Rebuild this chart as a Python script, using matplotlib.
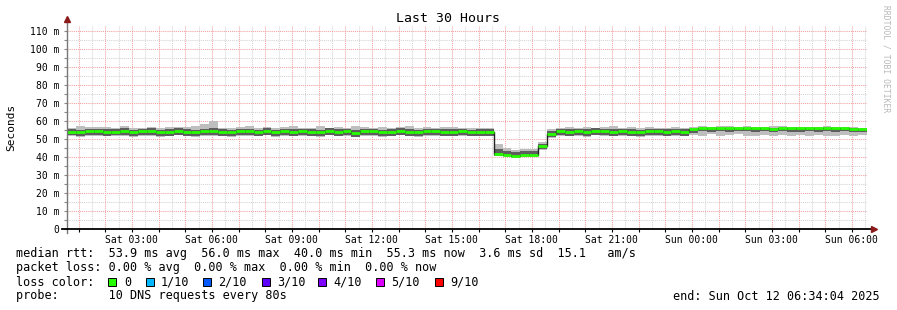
import numpy as np
import matplotlib
matplotlib.use('Agg')
import matplotlib.pyplot as plt
from matplotlib.patches import Rectangle

# time axis in hours since Sat 00:00, one value per 20 minute bin
start_hour = 0.5678   # Sat 00:34:04
bin_minutes = 20

# median rtt (ms) per bin
median = [54.0, 53.6, 54.2, 54.4, 53.8, 54.0, 54.3, 53.7, 54.1, 54.4, 53.6, 54.0,
          54.5, 53.9, 53.6, 54.2, 54.4, 54.0, 53.7, 54.3, 54.1, 53.8, 54.4, 53.5,
          54.2, 53.9, 54.3, 54.0, 53.6, 54.4, 53.9, 54.1, 53.4, 54.2, 54.3, 53.7,
          54.0, 54.4, 53.8, 53.5, 54.1, 54.3, 53.9, 54.0, 54.2, 53.8, 54.0, 53.9,
          41.5, 41.2, 40.6, 41.0, 41.2,
          45.8, 52.8,
          54.3, 54.0, 54.2, 53.8, 54.4, 54.1, 53.9, 54.3, 54.0, 53.7, 54.2, 54.3,
          53.9, 54.1, 54.0,
          55.2, 55.8, 56.0, 55.9, 55.7, 56.0, 55.8, 55.9, 56.0, 55.6, 55.8, 55.9,
          55.7, 56.0, 55.8, 55.9, 55.7, 55.8, 55.6, 55.3]

# smoke: slowest ping, upper inner, lower inner, fastest ping
smoke_max = [56.2, 57.0, 56.4, 56.8, 56.3, 55.9, 56.9, 56.1, 56.0, 56.6, 56.0, 56.4,
             56.3, 56.7, 57.0, 58.2, 60.0, 56.2, 56.0, 56.8, 57.1, 56.0, 56.4, 55.9,
             56.5, 57.3, 56.0, 56.2, 56.9, 56.1, 56.5, 56.1, 57.0, 56.3, 56.0, 56.6,
             55.9, 56.4, 57.2, 56.0, 56.3, 55.9, 56.5, 56.7, 56.0, 55.9, 56.2, 56.0,
             46.9, 44.8, 44.0, 44.6, 44.3,
             48.0, 55.5,
             56.0, 56.5, 56.2, 56.8, 56.0, 56.4, 57.0, 56.1, 56.3, 55.9, 56.6, 56.2,
             56.0, 56.5, 56.1,
             56.5, 57.0, 56.8, 57.2, 56.9, 56.6, 57.0, 56.8, 56.5, 56.9, 57.1, 56.7,
             56.6, 56.8, 56.5, 56.9, 56.7, 56.4, 56.6, 56.2]
smoke_hi = [55.3, 55.0, 55.5, 55.6, 55.2, 55.3, 55.7, 55.0, 55.4, 55.7, 55.0, 55.3,
            55.8, 55.3, 55.1, 55.6, 56.0, 55.3, 55.0, 55.6, 55.5, 55.1, 55.7, 54.9,
            55.5, 55.3, 55.6, 55.4, 55.0, 55.7, 55.2, 55.5, 54.9, 55.5, 55.6, 55.1,
            55.3, 55.7, 55.2, 54.9, 55.4, 55.6, 55.3, 55.4, 55.5, 55.1, 55.3, 55.2,
            44.5, 43.3, 42.8, 43.0, 43.2,
            47.0, 54.2,
            55.6, 55.3, 55.5, 55.2, 55.7, 55.4, 55.3, 55.6, 55.3, 55.0, 55.5, 55.6,
            55.2, 55.4, 55.3,
            55.6, 56.0, 56.2, 56.1, 55.9, 56.2, 56.0, 56.1, 56.2, 55.8, 56.0, 56.1,
            55.9, 56.2, 56.0, 56.1, 55.9, 56.0, 55.8, 55.5]
smoke_lo = [51.9, 51.5, 52.0, 52.2, 51.6, 51.9, 52.0, 51.5, 51.9, 52.1, 51.4, 51.8,
            52.2, 51.7, 51.4, 52.0, 52.1, 51.8, 51.5, 52.1, 51.9, 51.6, 52.2, 51.3,
            52.0, 51.7, 52.1, 51.8, 51.4, 52.2, 51.7, 51.9, 51.2, 52.0, 52.1, 51.5,
            51.8, 52.2, 51.6, 51.3, 51.9, 52.1, 51.7, 51.8, 52.0, 51.6, 51.8, 51.7,
            40.6, 40.4, 39.9, 40.2, 40.4,
            44.3, 51.0,
            52.1, 51.8, 52.0, 51.6, 52.2, 51.9, 51.7, 52.1, 51.8, 51.5, 52.0, 52.1,
            51.7, 51.9, 51.8,
            53.2, 54.2, 54.0, 54.4, 53.6, 54.1, 54.5, 53.9, 54.2, 53.7, 54.3, 54.0,
            53.8, 54.4, 53.9, 54.2, 53.7, 54.3, 53.9, 53.8]
smoke_min = [51.6, 51.2, 51.8, 51.8, 51.3, 51.6, 51.7, 51.2, 51.5, 51.8, 51.1, 51.5,
             51.9, 51.3, 51.0, 51.6, 51.8, 51.5, 51.2, 51.7, 51.6, 51.3, 51.9, 51.0,
             51.6, 51.4, 51.8, 51.5, 51.0, 51.9, 51.4, 51.6, 50.9, 51.7, 51.8, 51.2,
             51.5, 51.9, 51.3, 51.0, 51.6, 51.8, 51.4, 51.5, 51.7, 51.3, 51.5, 51.4,
             40.3, 40.1, 39.6, 39.9, 40.1,
             44.0, 50.6,
             51.8, 51.5, 51.7, 51.2, 51.9, 51.6, 51.3, 51.8, 51.5, 51.2, 51.7, 51.8,
             51.4, 51.6, 51.5,
             52.2, 51.8, 52.4, 51.6, 52.0, 52.5, 51.7, 51.5, 52.1, 51.8, 52.3, 51.6,
             51.9, 51.7, 52.2, 51.8, 51.6, 52.0, 51.8, 52.1]

tick_hours = [3, 6, 9, 12, 15, 18, 21, 24, 27, 30]
tick_labels = ['Sat 03:00', 'Sat 06:00', 'Sat 09:00', 'Sat 12:00', 'Sat 15:00',
               'Sat 18:00', 'Sat 21:00', 'Sun 00:00', 'Sun 03:00', 'Sun 06:00']
y_ticks = [0, 10, 20, 30, 40, 50, 60, 70, 80, 90, 100, 110]
y_labels = ['0', '10 m', '20 m', '30 m', '40 m', '50 m', '60 m', '70 m', '80 m',
            '90 m', '100 m', '110 m']

loss_labels = ['0', '1/10', '2/10', '3/10', '4/10', '5/10', '9/10']
loss_colors = ['#26ff00', '#00b8ff', '#0059ff', '#5e00ff', '#7e00ff', '#dd00ff', '#ff0000']

mono = 'DejaVu Sans Mono'
W, H = 897, 310

fig = plt.figure(figsize=(W / 100, H / 100), dpi=100)
fig.patch.set_facecolor('white')
ax = fig.add_axes([67 / W, 81 / H, 800 / W, 203 / H])
ax.set_xlim(start_hour, start_hour + 30)
ax.set_ylim(0, 112.5)
for s in ax.spines.values():
    s.set_visible(False)

# grid
dot = (0, (1, 1))
ax.vlines(np.arange(1.5, 30.6, 1), 0, 112.5, colors='#d4d4d4', lw=0.75, linestyles=dot, zorder=0)
ax.hlines(np.arange(5, 112, 10), start_hour, start_hour + 30, colors='#d4d4d4', lw=0.75, linestyles=dot, zorder=0)
ax.vlines(np.arange(1, 31, 1), 0, 112.5, colors='#f2a0a0', lw=0.75, linestyles=dot, zorder=1)
ax.hlines(np.arange(10, 112, 10), start_hour, start_hour + 30, colors='#f2a0a0', lw=0.75, linestyles=dot, zorder=1)

# smoke and median
edges = start_hour + np.arange(len(median) + 1) * bin_minutes / 60.0
def ext(v):
    return list(v) + [v[-1]]
ax.fill_between(edges, ext(smoke_min), ext(smoke_max), step='post', color='#bebebe', lw=0, zorder=2)
ax.fill_between(edges, ext(smoke_lo), ext(smoke_hi), step='post', color='#5e5e5e', lw=0, zorder=3)
ax.step(edges, ext(median), where='post', color='#202020', lw=1.0, zorder=4)
ax.hlines(median, edges[:-1], edges[1:], colors=loss_colors[0], lw=2.0, zorder=5)

# ticks
ax.set_xticks(tick_hours)
ax.set_xticklabels(tick_labels, fontfamily=mono, fontsize=7)
ax.set_xticks(np.arange(1, 31, 1), minor=True)
ax.tick_params(axis='x', which='both', length=2, width=0.8, color='black', pad=2.5)
ax.set_yticks(y_ticks)
ax.set_yticklabels(y_labels, fontfamily=mono, fontsize=7)
ax.set_yticks(np.arange(5, 112, 10), minor=True)
ax.tick_params(axis='y', which='both', length=2, width=0.8, color='#888888', pad=3.5)

# axis lines with arrows
ax.plot([start_hour, start_hour], [-2, 115.5], color='#777777', lw=1.0, clip_on=False, zorder=6)
ax.plot([start_hour - 0.2, start_hour + 30.2], [0, 0], color='black', lw=1.3, clip_on=False, zorder=6)
ax.plot([start_hour], [116.2], marker='^', color='#8b1a1a', ms=4, clip_on=False, zorder=7)
ax.plot([start_hour + 30.25], [0], marker='>', color='#8b1a1a', ms=4, clip_on=False, zorder=7)

# titles
fig.text(448 / W, 1 - 19 / H, 'Last 30 Hours', fontfamily=mono, fontsize=9.5, ha='center', va='center')
fig.text(11 / W, 1 - 127 / H, 'Seconds', fontfamily=mono, fontsize=8, rotation=90, ha='center', va='center')
fig.text(886 / W, 1 - 59 / H, 'RRDTOOL / TOBI OETIKER', fontfamily=mono, fontsize=5.8,
         rotation=270, ha='center', va='center', color='#b8b8b8')

# legend block
lx = 16 / W
fig.text(lx, 1 - 254 / H, 'median rtt:  53.9 ms avg  56.0 ms max  40.0 ms min  55.3 ms now  3.6 ms sd  15.1   am/s',
         fontfamily=mono, fontsize=8.5, va='center')
fig.text(lx, 1 - 268 / H, 'packet loss: 0.00 % avg  0.00 % max  0.00 % min  0.00 % now',
         fontfamily=mono, fontsize=8.5, va='center')
fig.text(lx, 1 - 282 / H, 'loss color:', fontfamily=mono, fontsize=8.5, va='center')
box_x = [108, 146, 203, 262, 318, 376, 435]
lab_x = [124, 161, 218, 277, 333, 391, 450]
for bx, tx, lab, col in zip(box_x, lab_x, loss_labels, loss_colors):
    fig.add_artist(Rectangle((bx / W, 1 - 286 / H), 8 / W, 8 / H, transform=fig.transFigure,
                             facecolor=col, edgecolor='black', lw=0.7))
    fig.text(tx / W, 1 - 282 / H, lab, fontfamily=mono, fontsize=8.5, va='center')
fig.text(lx, 1 - 296 / H, 'probe:       10 DNS requests every 80s', fontfamily=mono, fontsize=8.5, va='center')
fig.text(880 / W, 1 - 296 / H, 'end: Sun Oct 12 06:34:04 2025', fontfamily=mono, fontsize=8.5,
         ha='right', va='center')

fig.savefig('out.png', dpi=100, facecolor='white')
